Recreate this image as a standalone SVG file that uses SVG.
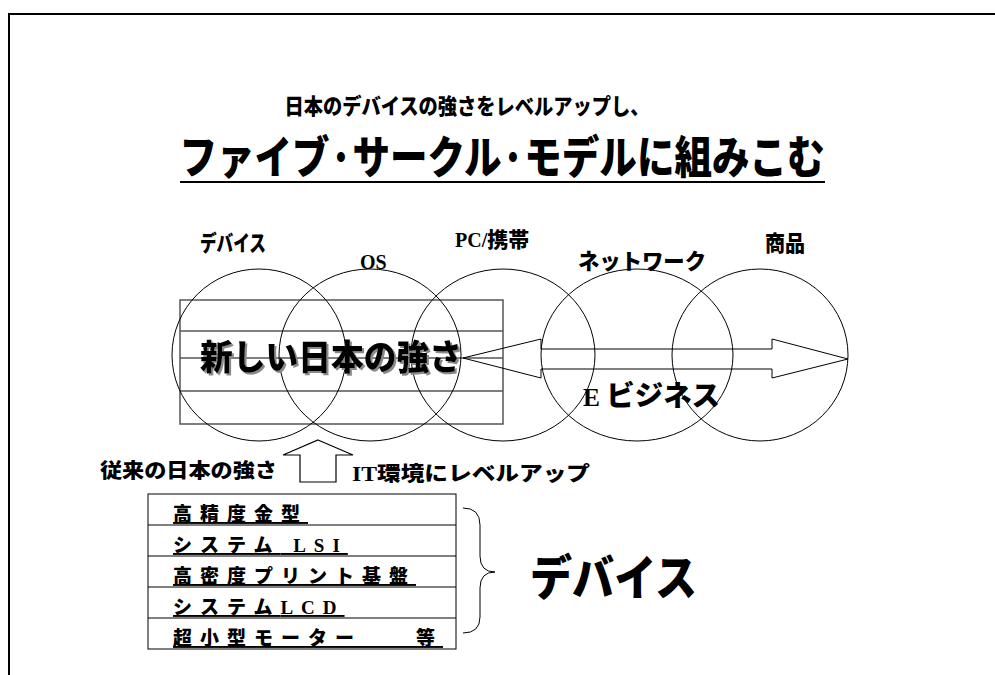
<svg xmlns="http://www.w3.org/2000/svg" width="995" height="675" viewBox="0 0 995 675">
<defs>
<filter id="shadow" x="-5%" y="-20%" width="115%" height="150%">
<feOffset in="SourceAlpha" dx="2" dy="2" result="o"/>
<feFlood flood-color="#8a8a8a"/>
<feComposite in2="o" operator="in" result="s"/>
<feMerge><feMergeNode in="s"/><feMergeNode in="SourceGraphic"/></feMerge>
</filter>
</defs>
<style>
.jp{font-family:"Noto Sans CJK JP","Liberation Sans",sans-serif;font-weight:900;fill:#000}
.rm{font-family:"Liberation Serif","Noto Sans CJK JP",serif;font-weight:bold}
.c{fill:none;stroke:#000;stroke-width:1}
.g{fill:none;stroke:#555;stroke-width:1.5}
.row{font-size:19px;letter-spacing:8px;text-decoration:underline}
</style>
<rect width="995" height="675" fill="#fff"/>
<g id="frame"><path d="M9,675 V14 H995" fill="none" stroke="#000" stroke-width="2"/></g>
<g id="title">
<text class="jp" x="467" y="114" font-size="22" text-anchor="middle" textLength="365" lengthAdjust="spacingAndGlyphs">日本のデバイスの強さをレベルアップし、</text>
<text class="jp" x="502" y="174" font-size="45" text-anchor="middle" textLength="645" lengthAdjust="spacingAndGlyphs">ファイブ·サークル·モデルに組みこむ</text>
<line x1="180" y1="182" x2="825" y2="182" stroke="#000" stroke-width="2"/>
</g>
<g id="new-strength">
<rect x="180" y="300" width="323" height="124" class="g"/>
<path d="M180,331 H503 M180,358 H503 M180,391 H503" class="g"/>
</g>
<g id="circles">
<ellipse id="c1" class="c" cx="259" cy="355" rx="87" ry="86"/>
<ellipse id="c2" class="c" cx="370" cy="355" rx="91" ry="86"/>
<ellipse id="c3" class="c" cx="503" cy="355" rx="92" ry="86"/>
<ellipse id="c4" class="c" cx="637" cy="355" rx="96" ry="86"/>
<ellipse id="c5" class="c" cx="760" cy="355" rx="88" ry="86"/>
</g>
<g id="labels">
<text class="jp" x="200" y="251" font-size="22" textLength="66" lengthAdjust="spacingAndGlyphs">デバイス</text>
<text class="rm" x="360" y="269" font-size="20">OS</text>
<text class="jp" x="455" y="247" font-size="21"><tspan class="rm" font-size="20">PC/</tspan>携帯</text>
<text class="jp" x="578" y="269" font-size="22" textLength="128" lengthAdjust="spacingAndGlyphs">ネットワーク</text>
<text class="jp" x="765" y="251" font-size="22" textLength="40" lengthAdjust="spacingAndGlyphs">商品</text>
</g>
<g id="connectors">
<polygon class="c" points="463,358 541,339 541,349 772,349 772,339 848,359 772,378 772,369 541,369 541,378"/>
<polygon points="318,440 353,455 336,455 336,482 300,482 300,455 283,455" fill="#fff" stroke="#000" stroke-width="1.2"/>
</g>
<g id="new-strength-label">
<text class="jp" x="200" y="370" font-size="35" textLength="262" lengthAdjust="spacingAndGlyphs" filter="url(#shadow)">新しい日本の強さ</text>
</g>
<g id="ebusiness">
<text class="jp" x="583" y="406" font-size="28" textLength="137" lengthAdjust="spacingAndGlyphs"><tspan class="rm" font-size="25">E </tspan>ビジネス</text>
</g>
<g id="old-strength">
<text class="jp" x="100" y="478" font-size="20" textLength="177" lengthAdjust="spacingAndGlyphs">従来の日本の強さ</text>
<text class="jp" x="352" y="481" font-size="20" textLength="238" lengthAdjust="spacingAndGlyphs"><tspan class="rm">IT</tspan>環境にレベルアップ</text>
</g>
<g id="device-table">
<rect x="148" y="494" width="308" height="155" fill="none" stroke="#000" stroke-width="1"/>
<path d="M148,525 H456 M148,556 H456 M148,587 H456 M148,618 H456" fill="none" stroke="#000" stroke-width="1"/>
<text class="jp row" x="173" y="521">高精度金型</text>
<text class="jp row" x="173" y="552">システム<tspan class="rm"> LSI</tspan></text>
<text class="jp row" x="173" y="583">高密度プリント基盤</text>
<text class="jp row" x="173" y="614">システム<tspan class="rm">LCD</tspan></text>
<text class="jp row" x="173" y="645">超小型モーター　　等</text>
</g>
<g id="devices">
<path d="M463,508 Q480,508 480,525 L480,556 Q480,572 495,572 Q480,572 480,588 L480,617 Q480,633 463,633" fill="none" stroke="#000" stroke-width="1"/>
<text class="jp" x="530" y="595" font-size="48" textLength="167" lengthAdjust="spacingAndGlyphs">デバイス</text>
</g>
</svg>
